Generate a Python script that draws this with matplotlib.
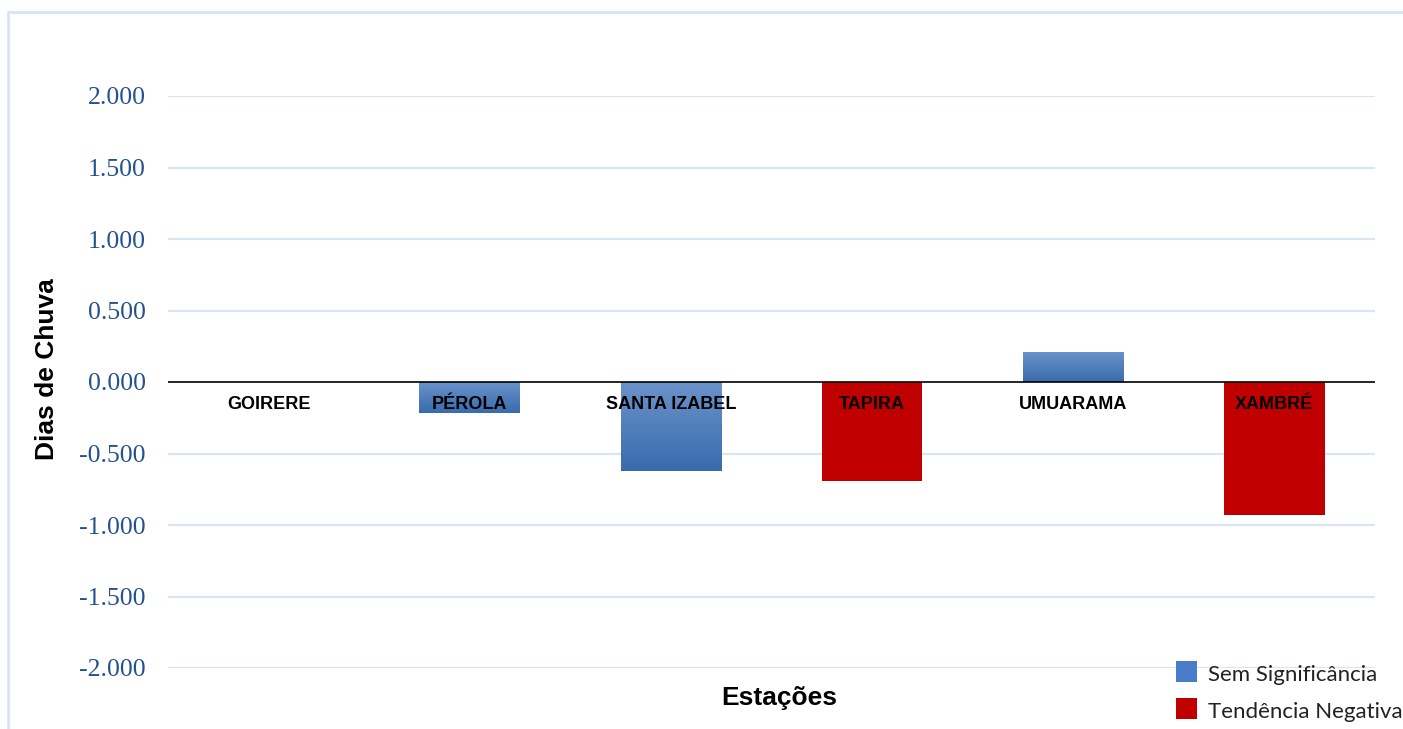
import numpy as np
import matplotlib
matplotlib.use("Agg")
import matplotlib.pyplot as plt
from matplotlib.patches import Rectangle
from matplotlib.colors import LinearSegmentedColormap

# Stations and trend values (rainy days)
estacoes = ["GOIRERE", "PÉROLA", "SANTA IZABEL", "TAPIRA", "UMUARAMA", "XAMBRÉ"]
valores = [0.0, -0.22, -0.62, -0.69, 0.21, -0.93]
classes = ["sem", "sem", "sem", "neg", "sem", "neg"]
y_ticks = [2.0, 1.5, 1.0, 0.5, 0.0, -0.5, -1.0, -1.5, -2.0]
legenda = {"sem": "Sem Significância", "neg": "Tendência Negativa"}

BLUE_TOP = "#6b93cb"
BLUE_BOT = "#396bad"
RED = "#c00000"
TICK_COLOR = "#24528f"
GRID_COLOR = "#d9e5f4"

W, H = 1403, 729
fig = plt.figure(figsize=(W / 100, H / 100), dpi=100)

# light outer frame of the chart area
fig.patches.append(Rectangle((8 / W, -0.05), 1.2, (H - 12) / H + 0.05,
                             transform=fig.transFigure, fill=False,
                             edgecolor="#d7e4f5", linewidth=2.0))

ax = fig.add_axes([168 / W, 1 - 668 / H, (1375 - 168) / W, (668 - 96) / H])
ax.set_xlim(-0.5, len(estacoes) - 0.5)
ax.set_ylim(-2.0, 2.0)

for s in ax.spines.values():
    s.set_visible(False)

for t in y_ticks:
    if t != 0:
        ax.axhline(t, color=GRID_COLOR, linewidth=1.6, zorder=0)

x = np.arange(len(estacoes))
bars = ax.bar(x, valores, width=0.5, zorder=2, linewidth=0)

grad = LinearSegmentedColormap.from_list("azul", [BLUE_TOP, BLUE_BOT])
g = np.linspace(0, 1, 256).reshape(-1, 1)
for b, c in zip(bars, classes):
    if c == "neg":
        b.set_facecolor(RED)
    else:
        b.set_facecolor("none")
        x0, y0 = b.get_x(), b.get_y()
        w, h = b.get_width(), b.get_height()
        if h == 0:
            continue
        lo, hi = min(y0, y0 + h), max(y0, y0 + h)
        im = ax.imshow(g, cmap=grad, aspect="auto", extent=(x0, x0 + w, lo, hi),
                       origin="upper", zorder=2, interpolation="bilinear")
        im.set_clip_path(b)

ax.set_xlim(-0.5, len(estacoes) - 0.5)
ax.set_ylim(-2.0, 2.0)

ax.axhline(0, color="black", linewidth=1.2, zorder=3)

ax.set_yticks(y_ticks)
ax.set_yticklabels([f"{t:.3f}" for t in y_ticks], family="Liberation Serif",
                   fontsize=18.5, color=TICK_COLOR)
ax.tick_params(axis="y", length=0, pad=16)
ax.set_xticks([])

for xi, nome in zip(x, estacoes):
    ax.text(xi, -0.155, nome, ha="center", va="center", fontsize=13,
            fontweight="bold", family="Liberation Sans", color="black", zorder=4)

fig.text(47 / W, 1 - 369 / H, "Dias de Chuva", rotation=90, ha="center",
         va="center", fontsize=19, fontweight="bold", family="Liberation Sans")
fig.text(779 / W, 1 - 698 / H, "Estações", ha="center", va="center",
         fontsize=19, fontweight="bold", family="Liberation Sans")

# legend
for i, (k, cor) in enumerate([("sem", "#4a7bc8"), ("neg", RED)]):
    yc = 671 + i * 37
    fig.patches.append(Rectangle((1176 / W, 1 - (yc + 11) / H), 21 / W, 21 / H,
                                 transform=fig.transFigure, facecolor=cor,
                                 edgecolor="none"))
    fig.text(1208 / W, 1 - (yc + 4) / H, legenda[k], ha="left", va="center",
             fontsize=16, family="Lato", color="#222222")

fig.savefig("out.png", dpi=100, facecolor="white")
